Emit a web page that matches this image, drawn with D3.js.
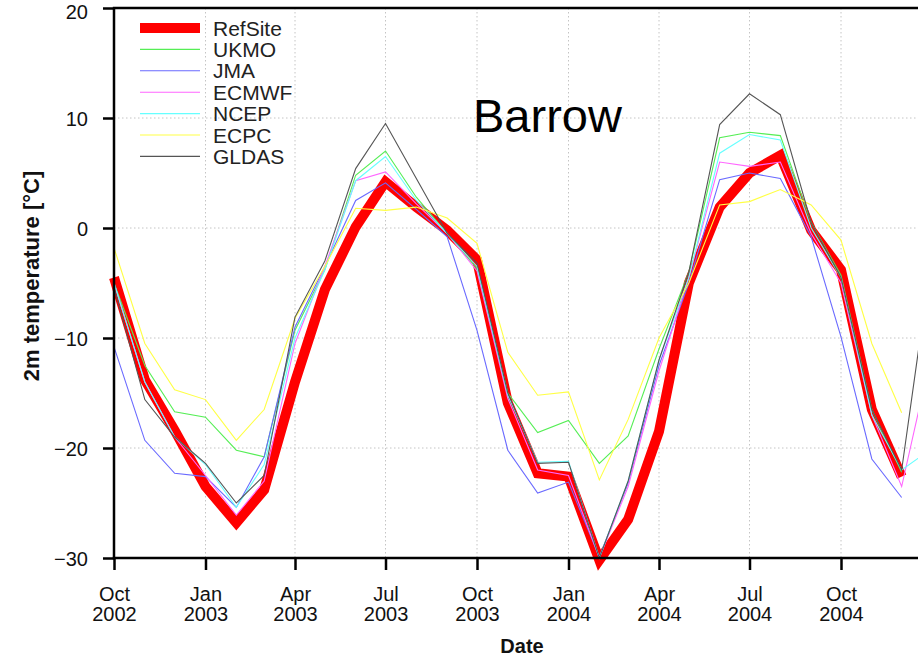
<!DOCTYPE html>
<html>
<head>
<meta charset="utf-8">
<script src="https://cdn.jsdelivr.net/npm/d3@7"></script>
<style>
  html, body { margin: 0; padding: 0; background: #fff; }
  svg { display: block; }
</style>
</head>
<body>
<svg id="chart" width="918" height="656"></svg>
<script>
// ---------------- data ----------------
const months = ["2002-10","2002-11","2002-12","2003-01","2003-02","2003-03","2003-04","2003-05","2003-06","2003-07","2003-08","2003-09",
  "2003-10","2003-11","2003-12","2004-01","2004-02","2004-03","2004-04","2004-05","2004-06","2004-07","2004-08","2004-09",
  "2004-10","2004-11","2004-12","2005-01"];

const seriesNames = ["RefSite","UKMO","JMA","ECMWF","NCEP","ECPC","GLDAS"];
const seriesColors = ["#ff0000","#55ee55","#6a6aff","#ff66ff","#66ffff","#ffff44","#555555"];

const refSite = [-4.5,-13.8,-18.4,-23.5,-26.8,-23.8,-14,-5.6,0.1,4.2,1.9,-0.2,-2.9,-15.9,-22.3,-22.6,-30.2,-26.5,-18.5,-5,1.9,5,6.6,-0.2,-3.8,-16.5,-22.6,null];
const ukmo    = [-5,-12.5,-16.7,-17.2,-20.2,-20.8,-9.3,-3.8,4.8,7,2.8,-0.5,-3.7,-15,-18.6,-17.5,-21.4,-18.9,-11,-4,8.2,8.7,8.4,0.5,-4.3,-16.5,-22.2,null];
const jma     = [-10.8,-19.3,-22.3,-22.6,-25.4,-20.8,-9,-3.5,2.5,4.1,1.7,-0.8,-9.3,-20.2,-24.1,-23.1,-29.9,-23.2,-12.5,-5,4.4,5,4.5,-0.8,-9.9,-21,-24.5,null];
const ecmwf   = [-5,-14,-19,-22.5,-26.1,-23,-10.5,-3.5,4.3,5.1,2.2,-0.5,-3.9,-15.5,-22,-22.5,-30,-23.5,-13,-4.5,6,5.6,6,-0.5,-5,-17,-23.5,-11];
const ncep    = [-5,-14,-19,-21.5,-25.4,-21.5,-10,-3.8,4.3,6.5,2.5,-0.5,-3.5,-15.2,-21.3,-21.2,-30,-23,-12,-4.5,6.8,8.5,8,0,-4.5,-17,-22,-20];
const ecpc    = [-1.8,-10.5,-14.7,-15.6,-19.3,-16.5,-8.2,-3.5,1.8,1.6,1.9,0.9,-1.4,-11.3,-15.2,-14.9,-22.9,-17.4,-10,-5,2.1,2.4,3.5,2.1,-1.1,-10.5,-16.8,null];
const gldas   = [-5.4,-15.6,-19,-21.4,-25,-22.5,-8.1,-3,5.4,9.5,4.5,-0.5,-3.2,-15,-21.4,-21.3,-30,-23,-12,-4,9.4,12.2,10.3,0.5,-4.5,-16.5,-22,-2];

const yTicks = [-30,-20,-10,0,10,20];
const xTickDates = ["2002-10","2003-01","2003-04","2003-07","2003-10","2004-01","2004-04","2004-07","2004-10"];
const xTickLabels = [["Oct","2002"],["Jan","2003"],["Apr","2003"],["Jul","2003"],["Oct","2003"],["Jan","2004"],["Apr","2004"],["Jul","2004"],["Oct","2004"]];

const chartTitle = "Barrow";
const xTitle = "Date";
const yTitle = "2m temperature [°C]";

// ---------------- layout ----------------
(function draw() {
const W = 918, H = 656;
const padL = 114, padT = 8, padB = 558;
const parse = d3.utcParse("%Y-%m");
const x = d3.scaleUtc().domain([parse("2002-10"), parse("2004-10")]).range([padL, 841]);
const y = d3.scaleLinear().domain([-30, 20]).range([padB, padT]);
const rightEdge = W + 20;

const svg = d3.select("#chart");
const font = "'Liberation Sans', Arial, Helvetica, sans-serif";

// grid
const grid = svg.append("g").attr("stroke", "#c4c4c4").attr("stroke-width", 1).attr("stroke-dasharray", "1.5,2.5");
yTicks.filter(v => v > -30 && v < 20).forEach(v => {
  grid.append("line").attr("x1", padL).attr("x2", rightEdge).attr("y1", y(v)).attr("y2", y(v));
});
xTickDates.slice(1).forEach(d => {
  grid.append("line").attr("x1", x(parse(d))).attr("x2", x(parse(d))).attr("y1", padT).attr("y2", padB);
});

// lines
const allSeries = [refSite, ukmo, jma, ecmwf, ncep, ecpc, gldas];
const line = d3.line()
  .defined(d => d.v !== null)
  .x(d => x(d.t))
  .y(d => y(d.v));

allSeries.forEach((arr, i) => {
  const pts = months.map((m, j) => ({ t: parse(m), v: arr[j] }));
  svg.append("path")
    .attr("d", line(pts))
    .attr("fill", "none")
    .attr("stroke", seriesColors[i])
    .attr("stroke-width", i === 0 ? 10 : 1.1)
    .attr("stroke-linejoin", "miter");
});

// axes
const yAxis = d3.axisLeft(y).tickValues(yTicks).tickSize(11).tickFormat(d => d < 0 ? "\u2212" + Math.abs(d) : d);
const yg = svg.append("g").attr("transform", `translate(${padL},0)`).call(yAxis);
yg.select(".domain").remove();
yg.selectAll(".tick line").attr("stroke", "#000").attr("stroke-width", 2.5);
yg.selectAll(".tick text").attr("font-family", font).attr("font-size", 20).attr("fill", "#111").attr("x", -26).attr("dy", "0.35em");
yg.selectAll(".tick text").filter(d => d === 20).attr("dy", "0.5em");

const xAxis = d3.axisBottom(x).tickValues(xTickDates.map(parse)).tickSize(12).tickFormat("");
const xg = svg.append("g").attr("transform", `translate(0,${padB})`).call(xAxis);
xg.select(".domain").remove();
xg.selectAll(".tick line").attr("stroke", "#000").attr("stroke-width", 2.5);
xg.selectAll(".tick").each(function(d, i) {
  const t = d3.select(this).append("text")
    .attr("font-family", font).attr("font-size", 20).attr("fill", "#111").attr("text-anchor", "middle");
  t.append("tspan").attr("x", 0).attr("y", 43).text(xTickLabels[i][0]);
  t.append("tspan").attr("x", 0).attr("y", 63).text(xTickLabels[i][1]);
});

// frame
svg.append("line").attr("x1", padL).attr("x2", padL).attr("y1", padT).attr("y2", padB + 1.2).attr("stroke", "#000").attr("stroke-width", 2.5);
svg.append("line").attr("x1", padL - 1.2).attr("x2", rightEdge).attr("y1", padT).attr("y2", padT).attr("stroke", "#000").attr("stroke-width", 2.5);
svg.append("line").attr("x1", padL - 1.2).attr("x2", rightEdge).attr("y1", padB).attr("y2", padB).attr("stroke", "#000").attr("stroke-width", 2.5);

// title
svg.append("text").attr("x", 473).attr("y", 132).attr("font-family", font).attr("font-size", 47).attr("fill", "#000").text(chartTitle);

// axis titles
svg.append("text").attr("x", 522).attr("y", 653).attr("text-anchor", "middle").attr("font-family", font)
  .attr("font-size", 20).attr("font-weight", "bold").attr("fill", "#111").text(xTitle);
svg.append("text").attr("transform", "translate(39,276) rotate(-90)").attr("text-anchor", "middle").attr("font-family", font)
  .attr("font-size", 22).attr("font-weight", "bold").attr("fill", "#111").text(yTitle);

// legend
const lg = svg.append("g");
seriesNames.forEach((name, i) => {
  const yy = 28 + i * 21.4;
  lg.append("line").attr("x1", 140).attr("x2", 200).attr("y1", yy).attr("y2", yy)
    .attr("stroke", seriesColors[i]).attr("stroke-width", i === 0 ? 10 : 1.1);
  lg.append("text").attr("x", 213).attr("y", yy).attr("dy", "0.36em").attr("font-family", font)
    .attr("font-size", 21).attr("fill", "#222").text(name);
});
})();
</script>
</body>
</html>
